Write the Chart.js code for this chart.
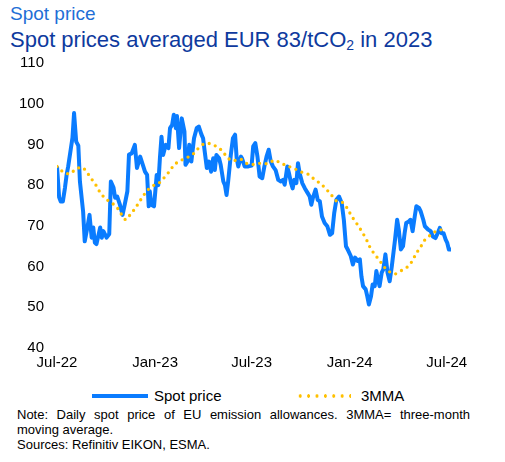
<!DOCTYPE html>
<html>
<head>
<meta charset="utf-8">
<script src="https://cdn.jsdelivr.net/npm/chart.js@4/dist/chart.umd.min.js"></script>
<style>
  body { margin: 0; width: 505px; height: 462px; background: #fff; position: relative; overflow: hidden;
         font-family: "Liberation Sans", Arial, sans-serif; }
  .abs { position: absolute; white-space: nowrap; }
  #t1 { left: 10px; top: 4px; font-size: 19px; line-height: 19px; color: #1f6fd6; }
  #t2 { left: 10px; top: 29px; font-size: 22px; line-height: 22px; color: #0e3a9e; }
  #t2 span { font-size: 14px; vertical-align: -3px; }
  #chart { position: absolute; left: 0; top: 0; }
  .leg { font-size: 15px; line-height: 15px; color: #000; }
  #l1 { left: 92px; top: 394px; width: 56px; height: 4px; background: #0a7cff; }
  #l2 { left: 296px; top: 394px; width: 55px; height: 4px;
        background-image: radial-gradient(circle, #ffc000 1.5px, rgba(255,192,0,0) 1.9px);
        background-size: 8.4px 4px; }
  .note { left: 17px; width: 453px; font-size: 13px; line-height: 15px; color: #000; }
  #n1 { text-align: justify; text-align-last: justify; white-space: normal; }
</style>
</head>
<body>
<div id="t1" class="abs">Spot price</div>
<div id="t2" class="abs">Spot prices averaged EUR 83/tCO<span>2</span> in 2023</div>
<canvas id="chart" width="505" height="380"></canvas>
<div id="l1" class="abs"></div>
<div class="abs leg" style="left:154px; top:388px;">Spot price</div>
<div id="l2" class="abs"></div>
<div class="abs leg" style="left:361px; top:388px;">3MMA</div>
<div id="n1" class="abs note" style="top:407px;">Note: Daily spot price of EU emission allowances. 3MMA= three-month</div>
<div class="abs note" style="top:422px;">moving average.</div>
<div class="abs note" style="top:437px;">Sources: Refinitiv EIKON, ESMA.</div>
<script>
// days counted from 1 Jul 2022
var tickDays = [0, 184, 365, 549, 731];
var tickLabels = ["Jul-22", "Jan-23", "Jul-23", "Jan-24", "Jul-24"];

var spotDays = [
  0, 4, 7, 11, 15, 18, 21, 26, 29, 32,
  36, 40, 43, 49, 52, 57, 61, 65, 68, 71,
  74, 81, 84, 87, 93, 98, 101, 106, 109, 113,
  118, 123, 127, 132, 135, 140, 146, 150, 156, 161,
  165, 169, 172, 174, 177, 182, 187, 190, 193, 196,
  199, 204, 209, 212, 216, 219, 223, 225, 229, 234,
  239, 241, 245, 248, 252, 257, 262, 266, 271, 274,
  277, 281, 285, 289, 293, 296, 299, 304, 307, 312,
  315, 318, 321, 326, 330, 334, 337, 340, 345, 347,
  352, 359, 365, 368, 372, 376, 380, 385, 389, 393,
  397, 401, 405, 410, 415, 420, 424, 427, 432, 435,
  439, 442, 445, 449, 452, 455, 460, 465, 470, 474,
  477, 480, 485, 489, 493, 497, 502, 507, 512, 516,
  520, 524, 529, 534, 538, 542, 546, 551, 555, 559,
  564, 568, 571, 574, 579, 582, 585, 589, 592, 596,
  599, 602, 605, 609, 612, 616, 620, 624, 628, 634,
  638, 641, 645, 649, 652, 655, 660, 663, 667, 671,
  674, 679, 682, 687, 690, 696, 701, 705, 710, 714,
  718, 721, 725, 729, 732, 735, 739
];
var spotPrice = [
  84.6, 77, 76, 76, 79.4, 82.5, 84.6, 89, 91.6, 97.7,
  90.7, 89.7, 80.9, 73.5, 66.2, 69.6, 72.7, 67.1, 69.6, 65.9,
  65.5, 69.6, 67.1, 68.7, 67.1, 68, 80.9, 79.4, 76.9, 77.2,
  75.2, 72.7, 75.2, 78.5, 87.5, 87.8, 89.9, 84.2, 87, 85,
  83.3, 82.5, 74.8, 78.5, 75.2, 74.8, 82.5, 80, 86.6, 91.9,
  87.4, 89.9, 89.1, 94, 94.8, 97.3, 94, 97, 89.1, 96.4,
  93.2, 85, 85.8, 89.9, 85.8, 91.5, 94, 94.4, 92.4, 91.5,
  88.3, 84.2, 85.8, 83.3, 86.6, 83.7, 87.4, 86.6, 85, 80.9,
  80, 77.6, 80.9, 87.4, 91.5, 92.4, 86.6, 84.6, 87, 86.6,
  84.6, 84.6, 84.8, 89.5, 90.3, 87, 82.1, 81.7, 84.6, 87,
  88.7, 85.8, 84.6, 83.7, 81.3, 80.9, 81.3, 80.1, 84.6, 83,
  80.5, 79.2, 81.3, 80.5, 85.4, 83, 80.5, 79.2, 78.1, 77.2,
  75.2, 76.9, 78.9, 76.4, 76, 72.3, 70.7, 69.9, 67.8, 68.2,
  73.2, 76.4, 77.2, 75.6, 71.5, 65, 64, 62.6, 60.5, 62.2,
  61.4, 61.8, 57.6, 55.2, 54.4, 52.7, 50.7, 52.7, 55.6, 55.2,
  58.9, 56.8, 55.2, 58.5, 59.3, 63, 58.5, 56.4, 60.1, 66.6,
  71.5, 69.1, 64.2, 65, 68.2, 70.7, 71.1, 71.5, 68.7, 72.3,
  74.8, 74.4, 73.6, 71.5, 69.9, 69.1, 68.7, 67.4, 67, 68.2,
  69.5, 68.2, 68.2, 66.6, 65.8, 64.2, 64.2
];

var mmaDays = [
  0, 12, 24, 36, 48, 58, 66, 74, 81, 91,
  103, 112, 120, 129, 137, 146, 154, 162, 170,
  182, 193, 202, 211, 220, 231, 243, 255, 264, 275, 287, 300, 311, 319, 330, 344, 356,
  369, 382, 395, 408, 420, 433, 446, 459, 472, 483, 495, 505, 514, 523, 536, 545,
  552, 560, 568, 575, 582, 588, 596, 605, 613, 623, 634, 647, 658, 667, 673, 682, 689, 700, 711, 723
];
var mmaValues = [
  84.6, 83.2, 82.8, 84, 84.3, 82.8, 81.3, 79.8, 78.2, 76.7,
  75.6, 74.6, 73, 71.5, 72.7, 74.2, 75.8, 77.4, 78.8,
  80, 80.7, 82, 83.4, 85, 86, 86.7, 87.6, 88.9, 90.1, 90.2, 89.4, 88.3, 86.8, 86, 86.4, 85.3,
  85.1, 85.4, 85.3, 86.1, 85.4, 84.7, 84, 83.2, 82.6, 81.4, 80.3, 79, 77.7, 76.2, 75.7, 74.2,
  72.5, 71, 69.4, 67.9, 66.2, 64.5, 63, 61.5, 60, 58.8, 58.2, 59.1, 60, 61.5, 63.1, 64.8, 66.4, 67.7, 68.7, 69.1
];

Chart.defaults.font.family = '"Liberation Sans", Arial, sans-serif';
Chart.defaults.color = '#000';

new Chart(document.getElementById('chart'), {
  type: 'line',
  data: {
    datasets: [
      {
        label: 'Spot price',
        data: spotDays.map(function (d, i) { return { x: d, y: spotPrice[i] }; }),
        borderColor: '#0a7cff',
        borderWidth: 4,
        borderJoinStyle: 'round',
        pointRadius: 0,
        tension: 0,
        order: 2
      },
      {
        label: '3MMA',
        data: mmaDays.map(function (d, i) { return { x: d, y: mmaValues[i] }; }),
        borderColor: '#ffc000',
        borderWidth: 3.3,
        borderDash: [0, 6.5],
        borderCapStyle: 'round',
        pointRadius: 0,
        tension: 0.3,
        order: 1
      }
    ]
  },
  options: {
    responsive: false,
    animation: false,
    layout: { padding: { left: 0, right: 54, top: 63, bottom: 0 } },
    plugins: { legend: { display: false }, tooltip: { enabled: false } },
    scales: {
      x: {
        type: 'linear',
        min: 0,
        max: 739,
        grid: { display: false, drawTicks: false },
        border: { display: false },
        afterBuildTicks: function (s) { s.ticks = tickDays.map(function (v) { return { value: v }; }); },
        afterFit: function (s) { s.height = 32; s.paddingLeft = 0; s.paddingRight = 0; },
        ticks: {
          font: { size: 15 },
          padding: 6,
          maxRotation: 0,
          autoSkip: false,
          callback: function (v, i) { return tickLabels[i]; }
        }
      },
      y: {
        min: 40,
        max: 110,
        grid: { display: false, drawTicks: false },
        border: { display: false },
        afterFit: function (s) { s.width = 57; s.paddingTop = 0; s.paddingBottom = 0; },
        ticks: { stepSize: 10, font: { size: 15 }, padding: 13 }
      }
    }
  }
});
</script>
</body>
</html>
